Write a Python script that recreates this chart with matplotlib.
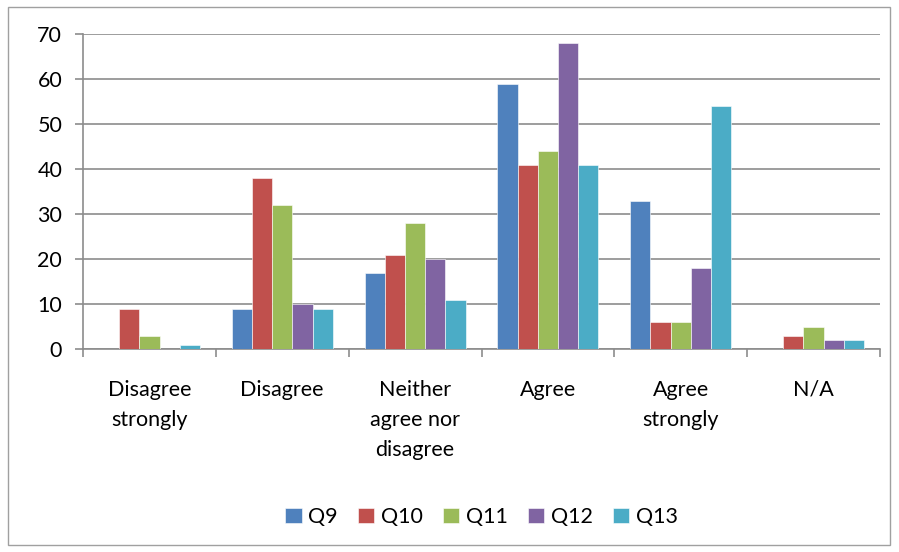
import numpy as np
import matplotlib.pyplot as plt
from matplotlib.patches import Rectangle

plt.rcParams['font.family'] = ['Lato', 'DejaVu Sans']

categories = ['Disagree\nstrongly', 'Disagree', 'Neither\nagree nor\ndisagree',
              'Agree', 'Agree\nstrongly', 'N/A']
series = ['Q9', 'Q10', 'Q11', 'Q12', 'Q13']
q9 = [0, 9, 17, 59, 33, 0]
q10 = [9, 38, 21, 41, 6, 3]
q11 = [3, 32, 28, 44, 6, 5]
q12 = [0, 10, 20, 68, 18, 2]
q13 = [1, 9, 11, 41, 54, 2]
colors = ['#4F81BD', '#C0504D', '#9BBB59', '#8064A2', '#4BACC6']

fig = plt.figure(figsize=(8.99, 5.52), dpi=100)
ax = fig.add_axes([83 / 899, 1 - 349 / 552, 797 / 899, 315 / 552])

# outer frame of the chart area
fig.patches.append(Rectangle((8 / 899, 7 / 552), 882 / 899, 538 / 552,
                             transform=fig.transFigure, fill=False,
                             edgecolor='#a0a0a0', linewidth=1))

x = np.arange(len(categories))
w = 0.152
for i, (vals, name) in enumerate(zip([q9, q10, q11, q12, q13], series)):
    ax.bar(x + (i - 2) * w, vals, w, color=colors[i], label=name,
           edgecolor='white', linewidth=0.4, zorder=3)

ax.set_xlim(-0.5, len(categories) - 0.5)
ax.set_ylim(0, 70)
ax.set_yticks(range(0, 71, 10))
ax.yaxis.grid(True, color='#8c8c8c', linewidth=1.2)
ax.set_axisbelow(True)
for s in ['top', 'right']:
    ax.spines[s].set_visible(False)
for s in ['left', 'bottom']:
    ax.spines[s].set_color('#8c8c8c')
    ax.spines[s].set_linewidth(1.2)

ax.set_xticks(np.arange(len(categories) + 1) - 0.5)
ax.set_xticklabels([])
ax.tick_params(axis='x', length=6, color='#8c8c8c', width=1.2)
ax.tick_params(axis='y', length=6, color='#8c8c8c', width=1.2, labelsize=15.5, pad=9)
for i, c in enumerate(categories):
    ax.text(x[i], -6.8, c, ha='center', va='top', fontsize=15.5,
            linespacing=1.65)

ax.legend(loc='center', bbox_to_anchor=(0.5, (349 - 517) / 315), ncol=5,
          frameon=False, fontsize=15.5, handlelength=0.75, handleheight=0.75,
          handletextpad=0.3, columnspacing=0.95)

fig.savefig('out.png', dpi=100)
